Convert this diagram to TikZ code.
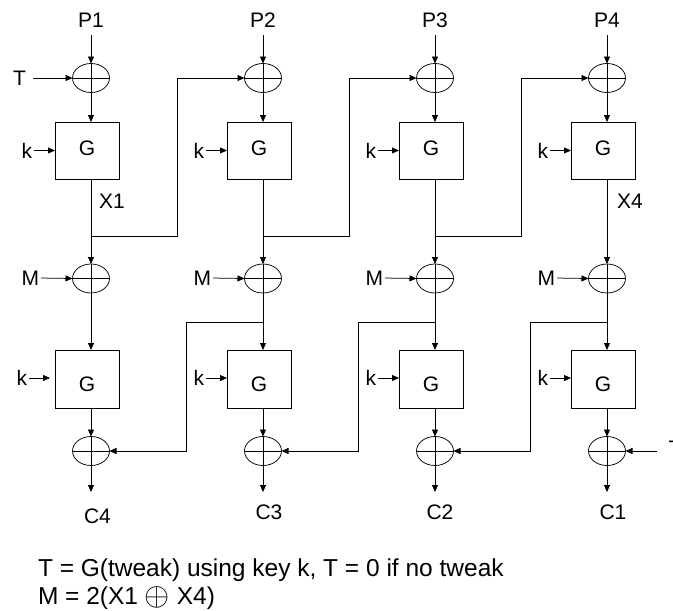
\documentclass[tikz,border=0pt]{standalone}
\usepackage{fontspec}
\setmainfont{Liberation Sans}
\usetikzlibrary{arrows.meta,shapes.geometric,calc}
\begin{document}
\begin{tikzpicture}[x=1pt,y=-1pt,
  line width=0.75pt,
  every node/.style={font=\fontsize{21}{25}\selectfont, inner sep=0pt, outer sep=0pt},
  note/.style={anchor=base west, font=\fontsize{24.5}{29}\selectfont},
  arr/.style={-{Triangle[length=7pt,width=6pt]}},
  xorn/.style={ellipse, draw, minimum width=37pt, minimum height=29pt,
    path picture={\draw (path picture bounding box.north) -- (path picture bounding box.south)
      (path picture bounding box.west) -- (path picture bounding box.east);}},
  gbox/.style={rectangle, draw, minimum width=64pt, minimum height=57pt}]
\useasboundingbox (0,0) rectangle (673,611);

\foreach \i/\x in {1/91, 2/263, 3/435, 4/607}{
  % top xor
  \node[xorn] (xt\i) at (\x,78) {};
  \node (p\i) at (\x,20) {P\i};
  \coordinate (ps\i) at (\x,35);
  \draw[arr] (ps\i) -- (xt\i.north);
  % top G
  \node[gbox] (g\i) at (\x-4,150.5) {};
  \node (gl\i) at (\x-4,148.5) {G};
  \draw[arr] (xt\i.south) -- (xt\i.south |- g\i.north);
  \node[anchor=east] (k\i) at ($(g\i.west)+(-23,0)$) {k};
  \draw[arr, shorten <=2pt] (k\i.east) -- (g\i.west);
  % M xor
  \node[xorn] (xm\i) at (\x,278.5) {};
  \coordinate (b\i) at (\x,236);
  \draw[arr] (g\i.south -| xt\i) -- (xm\i.north);
  \node[anchor=east] (m\i) at (\x-52,278) {M};
  \draw[arr, shorten <=2pt] (m\i.east) -- (xm\i.west);
  % lower G
  \node[gbox, minimum height=58pt] (h\i) at (\x-4,379) {};
  \node (hl\i) at (\x-4,384) {G};
  \draw[arr] (xm\i.south) -- (xm\i.south |- h\i.north);
  \coordinate (d\i) at (\x,322);
  % bottom xor
  \node[xorn] (xb\i) at (\x,451) {};
  \draw[arr] (h\i.south -| xm\i) -- (xb\i.north);
  \coordinate (ce\i) at (\x,492);
  \draw[arr] (xb\i.south) -- (ce\i);
}
% lower k labels
\node[anchor=east] (kl1) at (27,378) {k};
\draw[arr, shorten <=2pt, shorten >=5pt] (kl1.east) -- (kl1.east -| h1.west);
\foreach \i in {2,3,4}{
  \node[anchor=east] (kl\i) at ($(h\i.west)+(-23,-1)$) {k};
  \draw[arr, shorten <=2pt] (kl\i.east) -- (kl\i.east -| h\i.west);
}
% output labels
\node (c4) at (97.5,516) {C4};
\node (c3) at (269,512) {C3};
\node (c2) at (440,512) {C2};
\node (c1) at (613,512) {C1};
% T input
\node[anchor=east] (t0) at (26,78) {T};
\draw[arr, shorten <=7pt] (t0.east) -- (xt1.west);
% X labels
\node (x1) at (112,201) {X1};
\node (x4) at (630,201) {X4};
% upper crossovers
\coordinate (u1) at (177,236);
\coordinate (u2) at (349,236);
\coordinate (u3) at (521,236);
\draw[arr] (b1) -- (u1) |- (xt2.west);
\draw[arr] (b2) -- (u2) |- (xt3.west);
\draw[arr] (b3) -- (u3) |- (xt4.west);
% lower crossovers
\coordinate (e2) at (186,322);
\coordinate (e3) at (358,322);
\coordinate (e4) at (530,322);
\draw[arr] (d2) -- (e2) |- (xb1.east);
\draw[arr] (d3) -- (e3) |- (xb2.east);
\draw[arr] (d4) -- (e4) |- (xb3.east);
% right input (label cut by the page edge, as in the reference)
\coordinate (rin) at (657,451);
\draw[arr] (rin) -- (xb4.east);
\node[anchor=base west] (tr) at (668.5,455) {T};
% notes
\node[note] (n1) at (38,576) {T = G(tweak) using key k, T = 0 if no tweak};
\node[note] (n2) at (38,604) {M = 2(X1 \raisebox{-0.1ex}{\scalebox{1.3}{$\oplus$}} X4)};
\end{tikzpicture}
\end{document}
